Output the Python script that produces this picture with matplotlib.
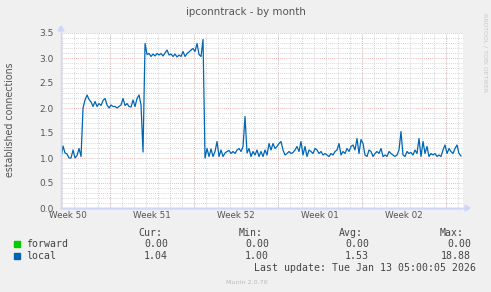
import numpy as np
import matplotlib
matplotlib.use("Agg")
import matplotlib.pyplot as plt

# ---------------- data ----------------
title = "ipconntrack - by month"
ylabel = "established connections"
week_labels = ["Week 50", "Week 51", "Week 52", "Week 01", "Week 02"]
week_label_pos = [-3.5, 3.5, 10.5, 17.5, 24.5]     # days relative to Mon Dec 15
week_start_pos = [0, 7, 14, 21, 28]
x_start = -4.08          # first sample (days)
x_step = 1.0 / 6.0       # 4 hours
x_limits = (-4.083, 29.42)
y_limits = (0.0, 3.5)

local_seg1 = [1.00, 1.24, 1.10, 1.08, 1.00, 1.00, 1.16, 1.00, 1.05, 1.19, 1.03]
local_seg2 = [2.00, 2.16, 2.26, 2.17, 2.12, 2.03, 2.13, 2.03, 2.09, 2.05,
              2.15, 2.19, 2.06, 2.00, 2.06, 2.03, 2.03, 2.00, 2.03, 2.06,
              2.19, 2.05, 2.09, 2.03, 2.02, 2.16, 2.03, 2.19, 2.26, 2.06]
local_dip = [1.12]
local_seg3 = [3.29, 3.07, 3.09, 3.03, 3.08, 3.04, 3.09, 3.06, 3.09, 3.04,
              3.10, 3.16, 3.06, 3.08, 3.03, 3.08, 3.02, 3.06, 3.03, 3.13,
              3.03, 3.09, 3.12, 3.16, 3.19, 3.13, 3.29, 3.07, 3.03, 3.37]
local_seg4 = [1.00, 1.19, 1.03, 1.18, 1.03, 1.13, 1.33, 1.03, 1.16, 1.03,
              1.10, 1.13, 1.15, 1.09, 1.13, 1.09, 1.16, 1.19, 1.13, 1.23,
              1.83, 1.10, 1.19, 1.03, 1.13, 1.06, 1.16, 1.03, 1.13, 1.03,
              1.16, 1.06, 1.29, 1.16, 1.29, 1.19, 1.23, 1.29, 1.33, 1.16,
              1.06, 1.09, 1.13, 1.09, 1.11, 1.16, 1.23, 1.13, 1.33, 1.06,
              1.23, 1.03, 1.16, 1.13, 1.09, 1.19, 1.16, 1.09, 1.13, 1.06,
              1.09, 1.06, 1.03, 1.09, 1.06, 1.13, 1.16, 1.29, 1.06, 1.13,
              1.09, 1.19, 1.13, 1.23, 1.26, 1.16, 1.39, 1.09, 1.37, 1.29,
              1.06, 1.03, 1.16, 1.13, 1.03, 1.09, 1.13, 1.09, 1.19, 1.03,
              1.06, 1.03, 1.13, 1.09, 1.06, 1.03, 1.06, 1.16, 1.53, 1.06,
              1.03, 1.13, 1.09, 1.11, 1.06, 1.16, 1.09, 1.39, 1.03, 1.33,
              1.09, 1.23, 1.03, 1.09, 1.06, 1.09, 1.03, 1.06, 1.03, 1.16,
              1.26, 1.09, 1.19, 1.13, 1.09, 1.19, 1.26, 1.09, 1.04]
local_values = local_seg1 + local_seg2 + local_dip + local_seg3 + local_seg4
forward_values = [0.0] * len(local_values)

series_names = ["forward", "local"]
series_colors = ["#00CC00", "#0066B3"]
stat_headers = ["Cur:", "Min:", "Avg:", "Max:"]
stats = {"forward": ["0.00", "0.00", "0.00", "0.00"],
         "local": ["1.04", "1.00", "1.53", "18.88"]}
last_update = "Last update: Tue Jan 13 05:00:05 2026"
version = "Munin 2.0.76"
watermark = "RRDTOOL / TOBI OETIKER"

# ---------------- figure ----------------
W, H = 491, 292
fig = plt.figure(figsize=(W / 100, H / 100), dpi=100, facecolor="#F0F0F0")
L, R, T, B = 61, 463, 33, 208
ax = fig.add_axes([L / W, 1 - B / H, (R - L) / W, (B - T) / H], facecolor="white")

x = x_start + x_step * np.arange(len(local_values))

ax.set_xlim(*x_limits)
ax.set_ylim(*y_limits)

# grid
grid_kw = dict(linestyle=(0, (1, 1.5)), linewidth=0.6)
ax.set_xticks(np.arange(-4, 30, 1), minor=True)
ax.set_yticks(np.arange(0, 3.51, 0.1), minor=True)
ax.grid(which="minor", color="#C8C8C8", **grid_kw)
for xv in week_start_pos:
    ax.axvline(xv, color="#F0A0A0", zorder=1.5, **grid_kw)
for yv in np.arange(0.5, 3.51, 0.5):
    ax.axhline(yv, color="#F0A0A0", zorder=1.5, **grid_kw)

ax.set_xticks(week_label_pos)
ax.set_xticklabels(week_labels)
ax.set_yticks(np.arange(0, 3.51, 0.5))
ax.set_yticklabels([f"{v:.1f}" for v in np.arange(0, 3.51, 0.5)])
ax.tick_params(which="both", length=0)
ax.tick_params(axis="x", pad=2, labelsize=6.3, labelcolor="#555555")
ax.tick_params(axis="y", pad=5, labelsize=6.5, labelcolor="#555555")
for s in ax.spines.values():
    s.set_visible(False)

# data
ax.plot(x, forward_values, color=series_colors[0], lw=1.0, alpha=0.55, zorder=3,
        clip_on=False)
ax.plot(x, local_values, color=series_colors[1], lw=0.9, zorder=4)

# axis lines with arrows
axis_col = "#CFD6F8"
fig.add_artist(plt.Line2D([L / W, L / W], [1 - B / H, 1 - 30 / H],
                          color=axis_col, lw=1, transform=fig.transFigure))
fig.add_artist(plt.Line2D([L / W, 465 / W], [1 - B / H, 1 - B / H],
                          color=axis_col, lw=1, transform=fig.transFigure, zorder=2))
fig.add_artist(plt.Polygon([[(L - 3) / W, 1 - 31 / H], [(L + 3) / W, 1 - 31 / H],
                            [L / W, 1 - 26 / H]], closed=True, color=axis_col,
                           transform=fig.transFigure))
fig.add_artist(plt.Polygon([[465 / W, 1 - (B - 3) / H], [465 / W, 1 - (B + 3) / H],
                            [470 / W, 1 - B / H]], closed=True, color=axis_col,
                           transform=fig.transFigure))

# texts
fig.text(246 / W, 1 - 12 / H, title, ha="center", va="center",
         fontsize=7.4, color="#555555")
fig.text(10 / W, 1 - 120 / H, ylabel, ha="center", va="center", rotation=90,
         fontsize=6.85, color="#555555")
fig.text(485 / W, 1 - 53 / H, watermark, ha="center", va="center", rotation=270,
         fontsize=4.4, color="#C8C8C8")

mono = "DejaVu Sans Mono"
fs = 7.1
tc = "#444444"
hdr_right = [162, 263, 363, 464]
val_right = [168, 269, 369, 471]
for h, xr in zip(stat_headers, hdr_right):
    fig.text(xr / W, 1 - 233 / H, h, ha="right", va="center", family=mono,
             fontsize=fs, color=tc)
rows_y = [244, 256]
for name, col, yy in zip(series_names, series_colors, rows_y):
    fig.add_artist(plt.Rectangle((14 / W, 1 - (yy + 3) / H), 6 / W, 6 / H,
                                 color=col, transform=fig.transFigure))
    fig.text(26 / W, 1 - yy / H, name, ha="left", va="center", family=mono,
             fontsize=fs, color=tc)
    for v, xr in zip(stats[name], val_right):
        fig.text(xr / W, 1 - yy / H, v, ha="right", va="center", family=mono,
                 fontsize=fs, color=tc)
fig.text(476 / W, 1 - 268 / H, last_update, ha="right", va="center", family=mono,
         fontsize=fs, color=tc)
fig.text(247 / W, 1 - 282 / H, version, ha="center", va="center",
         fontsize=4.6, color="#BBBBBB")

fig.savefig("out.png", dpi=100, facecolor=fig.get_facecolor())
